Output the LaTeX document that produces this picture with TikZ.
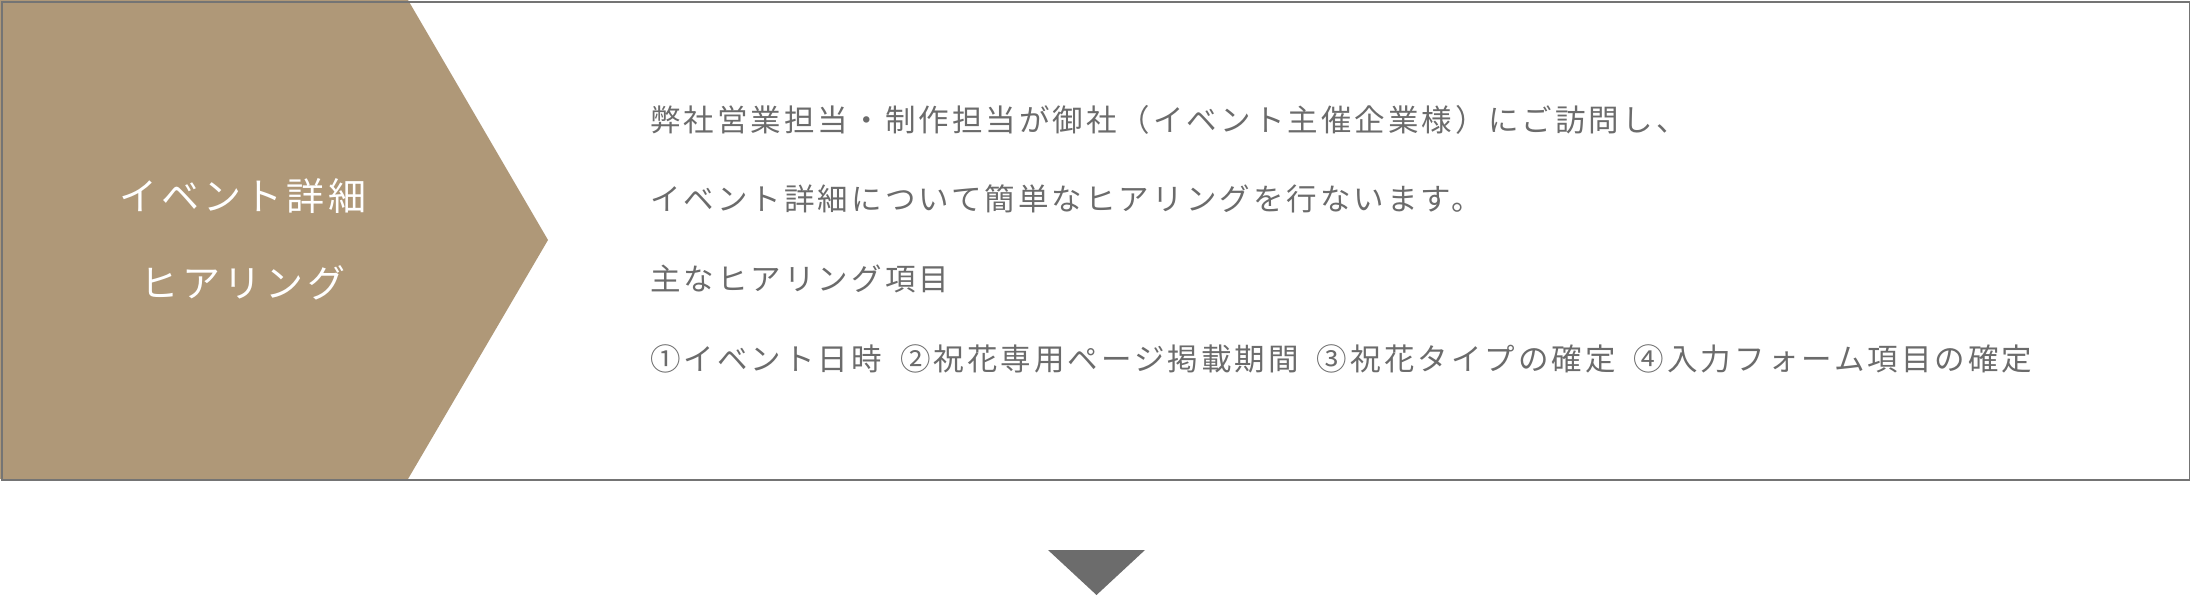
\documentclass[tikz,border=0pt]{standalone}
\usepackage{fontspec}
\setmainfont{Noto Sans CJK JP}
\newfontfamily\jpR[LetterSpace=10]{Noto Sans CJK JP}
\newfontfamily\jpL[LetterSpace=10]{Noto Sans CJK JP}
\definecolor{chevfill}{HTML}{AF9878}
\definecolor{bordergray}{HTML}{747474}
\definecolor{txtgray}{HTML}{6B6B6B}
\definecolor{arrowgray}{HTML}{6C6C6C}
\newcommand\itemgap{\hspace{18pt}}
\tikzset{
  txtR/.style={anchor=base west, inner sep=0pt, font=\jpR\fontsize{30.5}{36}\selectfont, text=txtgray},
  txtL/.style={anchor=base, inner sep=0pt, font=\jpL\fontsize{38}{44}\selectfont, text=white},
  framebox/.style={draw=bordergray, line width=2pt},
  chevron/.style={fill=chevfill, draw=none},
  downtri/.style={fill=arrowgray, draw=none}
}
\begin{document}
\begin{tikzpicture}[x=1pt,y=-1pt]
\useasboundingbox (0,0) rectangle (2190,596);
\fill[white] (0,0) rectangle (2190,596);
% chevron
\path[chevron] (0,0) -- (408,0) -- (548,240) -- (408,479) -- (0,479) -- cycle;
% frame
\node[framebox, minimum width=2188pt, minimum height=478pt, inner sep=0pt, anchor=north west] (frame) at (1,1) {};
% left labels
\node[txtL] (l1) at (243,210.5) {イベント詳細};
\node[txtL] (l2) at (243,297.5) {ヒアリング};
% right text
\node[txtR] (r1) at (650,131.5) {弊社営業担当・制作担当が御社（イベント主催企業様）にご訪問し、};
\node[txtR] (r2) at (650,211) {イベント詳細について簡単なヒアリングを行ないます。};
\node[txtR] (r3) at (650,290.5) {主なヒアリング項目};
\node[txtR] (r4) at (650,370) {①イベント日時\itemgap ②祝花専用ページ掲載期間\itemgap ③祝花タイプの確定\itemgap ④入力フォーム項目の確定};
% down triangle
\path[downtri] (1048,550) -- (1145,550) -- (1096.5,595) -- cycle;
\end{tikzpicture}
\end{document}
